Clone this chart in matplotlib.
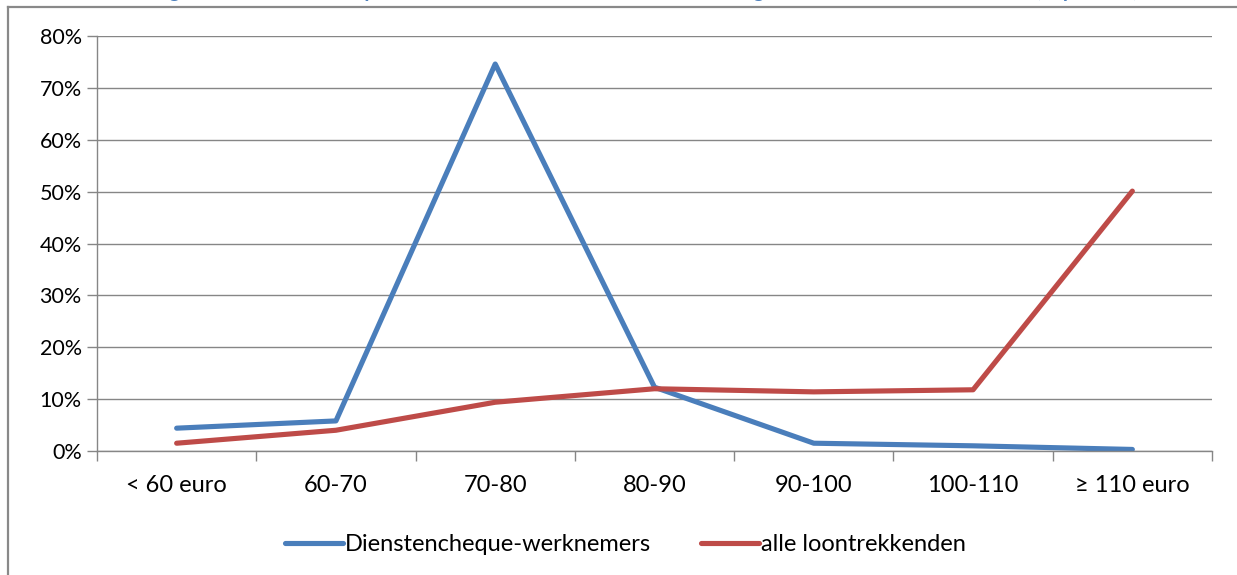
import matplotlib.pyplot as plt
from matplotlib.lines import Line2D
import numpy as np

plt.rcParams['font.family'] = ['Lato', 'DejaVu Sans']

categories = ['< 60 euro', '60-70', '70-80', '80-90', '90-100', '100-110', '\u2265 110 euro']
dienstencheque = [4.4, 5.8, 74.6, 12.3, 1.5, 1.0, 0.3]
alle_loontrekkenden = [1.5, 4.0, 9.4, 12.0, 11.4, 11.8, 50.1]
title = ('Grafiek 4: Verdeling van de dienstencheque-werknemers en alle loontrekkenden '
         'volgens bruto uurloon, 2010, euro (in procent)')

fig = plt.figure(figsize=(12.37, 5.75), dpi=100)
ax = fig.add_axes([97/1237, 124/575, 1115/1237, 415/575])

x = np.arange(len(categories))
ax.plot(x, dienstencheque, color='#4a7ebb', linewidth=3.7, solid_capstyle='round',
        solid_joinstyle='round', label='Dienstencheque-werknemers')
ax.plot(x, alle_loontrekkenden, color='#be4b48', linewidth=3.7, solid_capstyle='round',
        solid_joinstyle='round', label='alle loontrekkenden')

ax.set_xlim(-0.5, len(categories) - 0.5)
ax.set_ylim(0, 80)
ax.set_yticks(np.arange(0, 81, 10))
ax.set_yticklabels(['%d%%' % v for v in range(0, 81, 10)], fontsize=15.5)
ax.set_xticks(x)
ax.set_xticklabels(categories, fontsize=17)
ax.set_xticks(np.arange(-0.5, len(categories)), minor=True)
ax.tick_params(axis='x', which='major', length=0, pad=17)
ax.tick_params(axis='x', which='minor', length=7, color='#868686', width=1)
ax.tick_params(axis='y', length=7, color='#868686', width=1, pad=4)
ax.grid(axis='y', color='#868686', linewidth=1)
ax.set_axisbelow(True)
for s in ['top', 'right']:
    ax.spines[s].set_visible(False)
for s in ['left', 'bottom']:
    ax.spines[s].set_color('#868686')
    ax.spines[s].set_linewidth(1)

ax.legend(loc='center', bbox_to_anchor=(0.474, -0.225), ncol=2, frameon=False,
          fontsize=17, handlelength=2.45, handletextpad=0.1, columnspacing=2.1)

# outer chart frame
fig.add_artist(Line2D([8/1237, 1], [1 - 7/575, 1 - 7/575], color='#898989', linewidth=1.6))
fig.add_artist(Line2D([8/1237, 8/1237], [0, 1 - 7/575], color='#898989', linewidth=1.6))

# title, mostly cut off above the frame as in the source
fig.text(0.0, 1 + 3/575, title, color='#4f81bd', fontsize=14.5, fontweight='bold',
         ha='left', va='baseline')

fig.savefig('out.png', dpi=100)
